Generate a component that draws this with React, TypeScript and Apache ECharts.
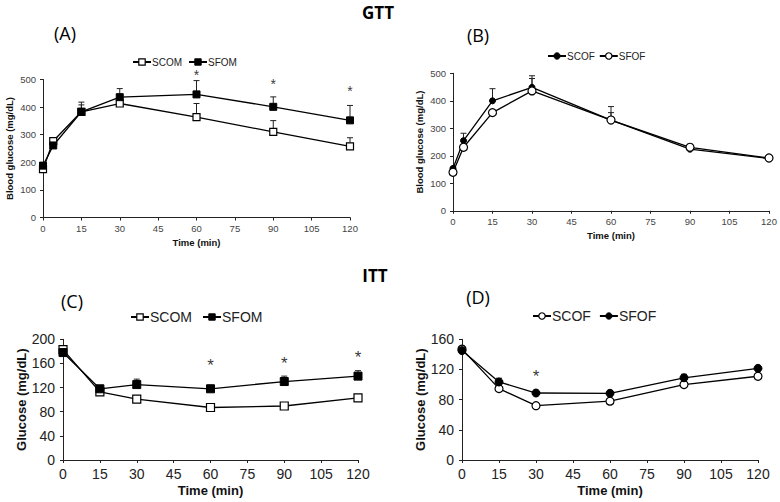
import React, { useEffect, useRef } from "react";
import * as echarts from "echarts";

// ---------- Data ----------
const gttTime = [0, 4, 15, 30, 60, 90, 120];
const ittTime = [0, 15, 30, 60, 90, 120];

// Panel A (GTT)
const aSCOM = [175, 277, 383, 413, 364, 310, 258];
const aSCOMErr = [0, 6, 35, 8, 49, 41, 31];
const aSFOM = [188, 261, 383, 436, 446, 401, 352];
const aSFOMErr = [0, 5, 25, 31, 50, 36, 54];
const aStarTime = [60, 90, 120];
const aStarVal = [518, 482, 460];

// Panel B (GTT)
const bSCOF = [154, 255, 400, 449, 330, 224, 190];
const bSCOFErr = [5, 27, 44, 42, 49, 0, 0];
const bSFOF = [140, 231, 357, 436, 330, 231, 192];
const bSFOFErr = [5, 8, 10, 45, 27, 4, 4];

// Panel C (ITT)
const cSCOM = [183, 113, 101, 87, 89.5, 103];
const cSCOMErr = [4, 3, 4, 4, 5, 3];
const cSFOM = [178, 118, 125, 118, 130, 139];
const cSFOMErr = [3, 3, 9, 6, 9, 9];
const cStarTime = [60, 90, 120];
const cStarVal = [157, 160, 170];

// Panel D (ITT)
const dSCOF = [147, 94.6, 72, 78, 100, 111];
const dSCOFErr = [2, 3, 2, 2, 3, 2];
const dSFOF = [145, 103.4, 88.8, 88.4, 109, 121.5];
const dSFOFErr = [3, 5, 2, 2, 4.6, 2];
const dStarTime = [30];
const dStarVal = [111];

const xTicks = { min: 0, max: 120, interval: 15 };

const FONT = "'Liberation Sans', Arial, sans-serif";

const pairs = (xs: number[], ys: number[]) => xs.map((x, i) => [x, ys[i]]);
const triples = (xs: number[], ys: number[], es: number[]) =>
  xs.map((x, i) => [x, ys[i], es[i]]);

const errorRender = (params: any, api: any) => {
  const x = api.value(0);
  const y = api.value(1);
  const e = api.value(2);
  const p0 = api.coord([x, y]);
  const p1 = api.coord([x, y + e]);
  return {
    type: "group",
    children: [
      {
        type: "line",
        shape: { x1: p0[0], y1: p0[1], x2: p1[0], y2: p1[1] },
        style: { stroke: "#222", lineWidth: 1 },
      },
      {
        type: "line",
        shape: { x1: p1[0] - 3, y1: p1[1], x2: p1[0] + 3, y2: p1[1] },
        style: { stroke: "#222", lineWidth: 1 },
      },
    ],
  };
};

const openStyle = { color: "#fff", borderColor: "#000", borderWidth: 1.2 };
const filledStyle = { color: "#000", borderColor: "#000", borderWidth: 1 };

function lineSeries(
  name: string,
  idx: number,
  xs: number[],
  ys: number[],
  symbol: string,
  size: number,
  open: boolean
) {
  return {
    name,
    type: "line",
    xAxisIndex: idx,
    yAxisIndex: idx,
    data: pairs(xs, ys),
    symbol,
    symbolSize: size,
    showSymbol: true,
    z: 5,
    lineStyle: { color: "#000", width: 1.3 },
    itemStyle: open ? openStyle : filledStyle,
  };
}

function errSeries(name: string, idx: number, xs: number[], ys: number[], es: number[]) {
  return {
    name,
    type: "custom",
    xAxisIndex: idx,
    yAxisIndex: idx,
    renderItem: errorRender,
    data: triples(xs, ys, es),
    encode: { x: 0, y: 1 },
    z: 3,
    silent: true,
  };
}

function starSeries(name: string, idx: number, xs: number[], ys: number[], size: number) {
  return {
    name,
    type: "scatter",
    xAxisIndex: idx,
    yAxisIndex: idx,
    data: pairs(xs, ys),
    symbol: "circle",
    symbolSize: 1,
    clip: false,
    itemStyle: { color: "rgba(0,0,0,0)" },
    silent: true,
    label: {
      show: true,
      position: "inside",
      formatter: "*",
      fontSize: size,
      color: "#000",
      fontFamily: FONT,
    },
  };
}

function xAxis(idx: number, fs: number, color: string, margin: number, nameSize: number, nameGap: number) {
  return {
    type: "value",
    gridIndex: idx,
    ...xTicks,
    axisLine: { show: true, onZero: false, lineStyle: { color: "#222", width: 1 } },
    axisTick: { show: true, length: 3, lineStyle: { color: "#222" } },
    splitLine: { show: false },
    axisLabel: { fontSize: fs, color, margin, fontFamily: FONT },
    name: "Time (min)",
    nameLocation: "middle",
    nameGap,
    nameTextStyle: { fontSize: nameSize, fontWeight: "bold", color: "#111", fontFamily: FONT },
  };
}

function yAxis(
  idx: number,
  max: number,
  interval: number,
  name: string,
  fs: number,
  color: string,
  margin: number,
  nameSize: number,
  nameGap: number
) {
  return {
    type: "value",
    gridIndex: idx,
    min: 0,
    max,
    interval,
    axisLine: { show: true, lineStyle: { color: "#222", width: 1 } },
    axisTick: { show: true, length: 3, lineStyle: { color: "#222" } },
    splitLine: { show: false },
    axisLabel: { fontSize: fs, color, margin, fontFamily: FONT },
    name,
    nameLocation: "middle",
    nameGap,
    nameTextStyle: { fontSize: nameSize, fontWeight: "bold", color: "#111", fontFamily: FONT },
  };
}

function legend(
  left: number,
  top: number,
  fs: number,
  gap: number,
  items: any[]
) {
  return {
    left,
    top,
    orient: "horizontal",
    itemWidth: 18,
    itemHeight: 8,
    itemGap: gap,
    padding: 0,
    selectedMode: false,
    textStyle: { fontSize: fs, color: "#222", fontFamily: FONT, padding: [0, 0, 0, -4] },
    data: items,
  };
}

const titleText = (text: string, x: number, y: number, size: number, bold: boolean) => ({
  type: "text",
  x,
  y,
  style: {
    text,
    fontSize: size,
    fontWeight: bold ? "bold" : "normal",
    fontFamily: "'Open Sans', 'Noto Sans', sans-serif",
    fill: "#000",
    textAlign: "center",
    textVerticalAlign: "middle",
  },
});

export default function App() {
  const ref = useRef<HTMLDivElement>(null);

  useEffect(() => {
    if (!ref.current) return;
    const chart = echarts.init(ref.current, undefined, { renderer: "svg" });

    const option: any = {
      animation: false,
      backgroundColor: "#fff",
      grid: [
        { left: 43, top: 79.5, width: 307, height: 138 },
        { left: 453, top: 73.3, width: 316, height: 137.5 },
        { left: 63, top: 339.3, width: 295, height: 120.7 },
        { left: 462, top: 339.3, width: 296, height: 120.7 },
      ],
      xAxis: [
        xAxis(0, 9.5, "#444", 6, 9.5, 20),
        xAxis(1, 9.5, "#444", 6, 9.5, 20),
        xAxis(2, 14, "#222", 7, 13, 24),
        xAxis(3, 14, "#222", 7, 13, 24),
      ],
      yAxis: [
        yAxis(0, 500, 100, "Blood glucose (mg/dL)", 9.5, "#444", 7, 9.5, 29),
        yAxis(1, 500, 100, "Blood glucose (mg/dL)", 9.5, "#444", 7, 9.5, 29),
        yAxis(2, 200, 40, "Glucose (mg/dL)", 14, "#222", 8, 13, 34),
        yAxis(3, 160, 40, "Glucose (mg/dL)", 14, "#222", 8, 13, 34),
      ],
      legend: [
        legend(132, 57, 10, 6, [
          { name: "SCOM", itemStyle: openStyle },
          { name: "SFOM", itemStyle: filledStyle },
        ]),
        legend(547, 51, 10, 4, [
          { name: "SCOF", itemStyle: filledStyle },
          { name: "SFOF", itemStyle: openStyle },
        ]),
        legend(130, 310, 14, 10, [
          { name: "SCOM", itemStyle: openStyle },
          { name: "SFOM", itemStyle: filledStyle },
        ]),
        legend(532, 309, 14, 8, [
          { name: "SCOF", itemStyle: openStyle },
          { name: "SFOF", itemStyle: filledStyle },
        ]),
      ],
      graphic: [
        titleText("GTT", 378, 12, 17, true),
        titleText("ITT", 375, 275, 17, true),
        titleText("(A)", 65, 33, 18, false),
        titleText("(B)", 478, 35, 18, false),
        titleText("(C)", 72, 301, 18, false),
        titleText("(D)", 478, 297, 18, false),
      ],
      series: [
        errSeries("eA1", 0, gttTime, aSCOM, aSCOMErr),
        errSeries("eA2", 0, gttTime, aSFOM, aSFOMErr),
        lineSeries("SCOM", 0, gttTime, aSCOM, "rect", 7, true),
        lineSeries("SFOM", 0, gttTime, aSFOM, "rect", 7, false),
        starSeries("sA", 0, aStarTime, aStarVal, 14),

        errSeries("eB1", 1, gttTime, bSCOF, bSCOFErr),
        errSeries("eB2", 1, gttTime, bSFOF, bSFOFErr),
        lineSeries("SCOF", 1, gttTime, bSCOF, "circle", 6, false),
        lineSeries("SFOF", 1, gttTime, bSFOF, "circle", 8, true),

        errSeries("eC1", 2, ittTime, cSCOM, cSCOMErr),
        errSeries("eC2", 2, ittTime, cSFOM, cSFOMErr),
        lineSeries("SCOM", 2, ittTime, cSCOM, "rect", 8, true),
        lineSeries("SFOM", 2, ittTime, cSFOM, "rect", 8, false),
        starSeries("sC", 2, cStarTime, cStarVal, 17),

        errSeries("eD1", 3, ittTime, dSCOF, dSCOFErr),
        errSeries("eD2", 3, ittTime, dSFOF, dSFOFErr),
        lineSeries("SCOF", 3, ittTime, dSCOF, "circle", 8, true),
        lineSeries("SFOF", 3, ittTime, dSFOF, "circle", 8, false),
        starSeries("sD", 3, dStarTime, dStarVal, 17),
      ],
    };

    chart.setOption(option);
    return () => chart.dispose();
  }, []);

  return (
    <div
      ref={ref}
      style={{ position: "fixed", left: 0, top: 0, width: 780, height: 502, background: "#fff" }}
    />
  );
}
